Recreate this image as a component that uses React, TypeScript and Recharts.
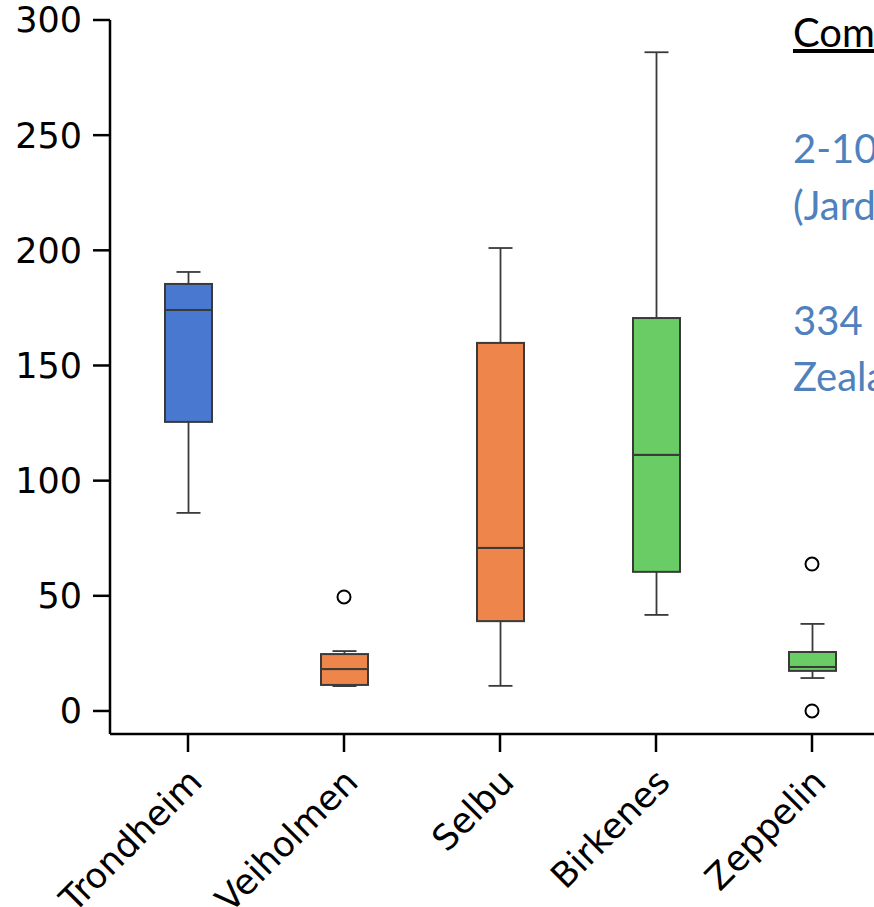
import React from 'react';
import {
  ComposedChart,
  Bar,
  Scatter,
  XAxis,
  YAxis,
} from 'recharts';

// sites on the x axis
const sites = ['Trondheim', 'Veiholmen', 'Selbu', 'Birkenes', 'Zeppelin'];

// box plot statistics per site
const whiskerLow = [86, 10.8, 10.9, 41.7, 14.3];
const q1 = [125.5, 11.3, 39, 60.4, 17.4];
const median = [174.1, 18.2, 70.8, 111.2, 19.1];
const q3 = [185.4, 24.7, 159.8, 170.6, 25.6];
const whiskerHigh = [190.6, 26, 201, 286, 37.8];

// outliers
const outlierSites = ['Veiholmen', 'Zeppelin', 'Zeppelin'];
const outlierValues = [49.5, 63.8, 0];

const yTicks = [0, 50, 100, 150, 200, 250, 300];

// side note lines (clipped by the frame)
const noteTitle = 'Comparison';
const noteLines = ['2-100', '(Jardine', '334', 'Zealand'];

const boxColors = ['#4878d0', '#ee854a', '#ee854a', '#6acc64', '#6acc64'];
const lineColor = '#3a3a3a';
const noteBlue = '#4f81bd';

const data = sites.map((name, i) => ({
  name,
  base: whiskerLow[i],
  lowWhisker: q1[i] - whiskerLow[i],
  lowBox: median[i] - q1[i],
  highBox: q3[i] - median[i],
  highWhisker: whiskerHigh[i] - q3[i],
}));

const outliers = outlierSites.map((name, i) => ({ name, value: outlierValues[i] }));

const CAP = 12;

const LowWhisker = (props: any) => {
  const { x, y, width, height } = props;
  const cx = x + width / 2;
  return (
    <g stroke={lineColor} strokeWidth={1.8}>
      <line x1={cx} y1={y} x2={cx} y2={y + height} />
      <line x1={cx - CAP} y1={y + height} x2={cx + CAP} y2={y + height} />
    </g>
  );
};

const HighWhisker = (props: any) => {
  const { x, y, width, height } = props;
  const cx = x + width / 2;
  return (
    <g stroke={lineColor} strokeWidth={1.8}>
      <line x1={cx} y1={y} x2={cx} y2={y + height} />
      <line x1={cx - CAP} y1={y} x2={cx + CAP} y2={y} />
    </g>
  );
};

const BoxPart = (props: any) => {
  const { x, y, width, height, index } = props;
  return (
    <rect
      x={x}
      y={y}
      width={width}
      height={Math.max(height, 0)}
      fill={boxColors[index]}
      stroke={lineColor}
      strokeWidth={2}
    />
  );
};

const Outlier = (props: any) => {
  const { cx, cy } = props;
  if (cx == null || cy == null || isNaN(cy)) return null;
  return <circle cx={cx} cy={cy} r={6.5} fill="#fff" stroke="#000" strokeWidth={2} />;
};

const SiteTick = (props: any) => {
  const { x, payload } = props;
  return (
    <g transform={`translate(${x + 16},${784}) rotate(-45)`}>
      <text x={0} y={0} textAnchor="end" fontSize={35} fill="#000" fontFamily="DejaVu Sans">
        {payload.value}
      </text>
    </g>
  );
};

export default function App() {
  return (
    <div
      style={{
        position: 'fixed',
        left: 0,
        top: 0,
        width: 874,
        height: 907,
        overflow: 'hidden',
        background: '#fff',
      }}
    >
      <ComposedChart
        width={900}
        height={907}
        data={data}
        margin={{ top: 20, right: 10, left: 0, bottom: 0 }}
        barCategoryGap={0}
      >
        <XAxis
          dataKey="name"
          type="category"
          allowDuplicatedCategory={false}
          height={173}
          tickSize={18}
          axisLine={{ stroke: '#000', strokeWidth: 2.5 }}
          tickLine={{ stroke: '#000', strokeWidth: 2.5 }}
          tick={<SiteTick />}
          interval={0}
        />
        <YAxis
          type="number"
          domain={[-10, 300]}
          ticks={yTicks}
          width={110}
          tickSize={17}
          tickMargin={11}
          axisLine={{ stroke: '#000', strokeWidth: 2.5 }}
          tickLine={{ stroke: '#000', strokeWidth: 2.5 }}
          tick={{ fill: '#000', fontSize: 35, fontFamily: 'DejaVu Sans' }}
          allowDataOverflow
        />
        <Bar dataKey="base" stackId="box" fill="none" barSize={47} isAnimationActive={false} />
        <Bar dataKey="lowWhisker" stackId="box" barSize={47} shape={<LowWhisker />} isAnimationActive={false} />
        <Bar dataKey="lowBox" stackId="box" barSize={47} shape={<BoxPart />} isAnimationActive={false} />
        <Bar dataKey="highBox" stackId="box" barSize={47} shape={<BoxPart />} isAnimationActive={false} />
        <Bar dataKey="highWhisker" stackId="box" barSize={47} shape={<HighWhisker />} isAnimationActive={false} />
        <Scatter data={outliers} dataKey="value" shape={<Outlier />} isAnimationActive={false} />
      </ComposedChart>
      <svg
        width={874}
        height={907}
        style={{ position: 'absolute', left: 0, top: 0, pointerEvents: 'none' }}
      >
        <g fontFamily="Lato" fontSize={40}>
          <text x={793} y={47} fill="#000" textDecoration="underline">
            {noteTitle}
          </text>
          <text x={793} y={163} fill={noteBlue}>{noteLines[0]}</text>
          <text x={793} y={220} fill={noteBlue}>{noteLines[1]}</text>
          <text x={793} y={335} fill={noteBlue}>{noteLines[2]}</text>
          <text x={793} y={391} fill={noteBlue}>{noteLines[3]}</text>
        </g>
      </svg>
    </div>
  );
}
